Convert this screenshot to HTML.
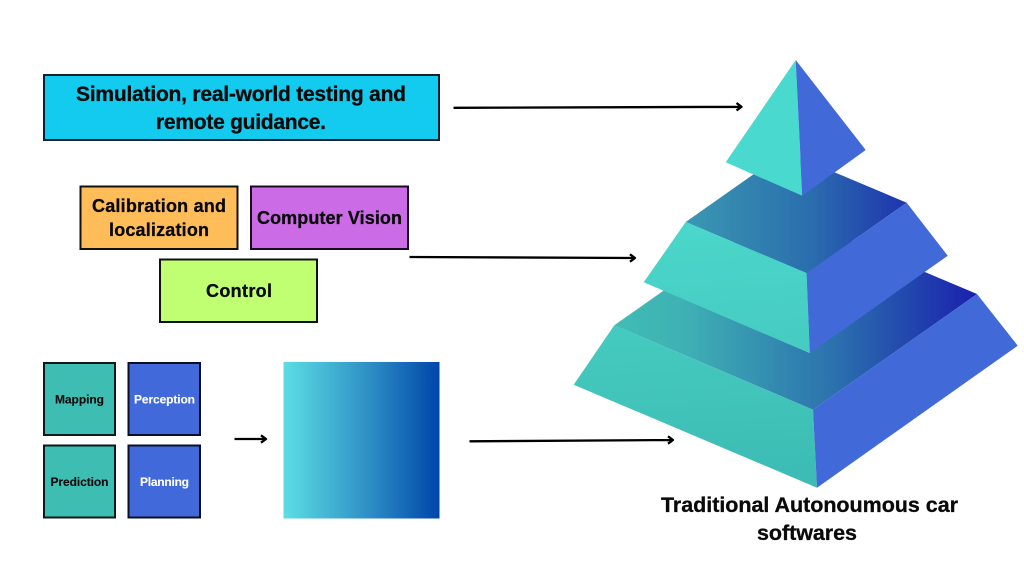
<!DOCTYPE html>
<html>
<head>
<meta charset="utf-8">
<style>
html,body{margin:0;padding:0;background:#fff;width:1024px;height:576px;overflow:hidden}
svg{display:block}
text{font-family:"Liberation Sans",sans-serif;font-weight:bold;text-anchor:middle;fill:#0a0a0a;stroke:#0a0a0a;stroke-width:.3px}
text.w{fill:#fff;stroke:#fff;stroke-width:.1px}
text.s{stroke-width:.1px}
</style>
</head>
<body>
<svg width="1024" height="576" viewBox="0 0 1024 576" xmlns="http://www.w3.org/2000/svg">
<defs>
<linearGradient id="cube" x1="0" y1="0" x2="1" y2="0">
<stop offset="0" stop-color="#5CDEE4"/><stop offset="0.5" stop-color="#3296C8"/><stop offset="1" stop-color="#0046AA"/>
</linearGradient>
<linearGradient id="t1" gradientUnits="userSpaceOnUse" x1="614" y1="340" x2="977" y2="340">
<stop offset="0" stop-color="#40BDB5"/><stop offset="0.2" stop-color="#3EB0B4"/><stop offset="0.6" stop-color="#2C72AE"/><stop offset="1" stop-color="#1A20AE"/>
</linearGradient>
<linearGradient id="t2" gradientUnits="userSpaceOnUse" x1="686" y1="220" x2="907" y2="220">
<stop offset="0" stop-color="#3A98B2"/><stop offset="0.55" stop-color="#2B6FAE"/><stop offset="1" stop-color="#1E34AE"/>
</linearGradient>
<linearGradient id="l1" gradientUnits="userSpaceOnUse" x1="690" y1="330" x2="700" y2="480">
<stop offset="0" stop-color="#45CABF"/><stop offset="1" stop-color="#3CBCB4"/>
</linearGradient>
<linearGradient id="l2" gradientUnits="userSpaceOnUse" x1="720" y1="230" x2="730" y2="350">
<stop offset="0" stop-color="#4AD6CA"/><stop offset="1" stop-color="#47CBC2"/>
</linearGradient>
</defs>

<!-- top box -->
<rect x="44" y="75" width="395" height="65" fill="#12CBEE" stroke="#0c2230" stroke-width="2"/>
<text x="241" y="101" font-size="21" textLength="330" lengthAdjust="spacing">Simulation, real-world testing and</text>
<text x="241" y="129" font-size="21" textLength="170" lengthAdjust="spacing">remote guidance.</text>

<!-- middle boxes -->
<rect x="80.500" y="186.500" width="157" height="62.500" fill="#FFBD59" stroke="#111" stroke-width="2"/>
<text x="159" y="212" font-size="18" textLength="134" lengthAdjust="spacing">Calibration and</text>
<text x="159" y="236" font-size="18" textLength="100" lengthAdjust="spacing">localization</text>
<rect x="251" y="186.500" width="157" height="62.500" fill="#CB6CE6" stroke="#1a0a22" stroke-width="2"/>
<text x="329.500" y="224" font-size="18" textLength="145" lengthAdjust="spacing">Computer Vision</text>
<rect x="160" y="259.500" width="157" height="62.500" fill="#C1FF72" stroke="#111" stroke-width="2"/>
<text x="239" y="297" font-size="18" textLength="66" lengthAdjust="spacing">Control</text>

<!-- small squares -->
<rect x="44" y="363" width="71" height="72" fill="#3EBDB3" stroke="#0c1a1a" stroke-width="2"/>
<text class="s" x="79.500" y="403.500" font-size="12" textLength="49" lengthAdjust="spacing">Mapping</text>
<rect x="128.500" y="363" width="71.500" height="72" fill="#4169DA" stroke="#0a0f25" stroke-width="2"/>
<text class="w" x="164.500" y="403.500" font-size="12" textLength="61" lengthAdjust="spacing">Perception</text>
<rect x="44" y="445.500" width="71" height="72" fill="#3EBDB3" stroke="#0c1a1a" stroke-width="2"/>
<text class="s" x="79.500" y="486" font-size="12" textLength="58" lengthAdjust="spacing">Prediction</text>
<rect x="128.500" y="445.500" width="71.500" height="72" fill="#4169DA" stroke="#0a0f25" stroke-width="2"/>
<text class="w" x="164.500" y="486" font-size="12" textLength="49" lengthAdjust="spacing">Planning</text>

<!-- gradient square -->
<rect x="283.500" y="362" width="156" height="156.500" fill="url(#cube)"/>

<!-- arrows -->
<g fill="none" stroke="#000" stroke-width="2.300" stroke-linejoin="round">
<path d="M453.500 107.800L741 106.800M736.500 103L741.500 106.800L736.500 110.500"/>
<path d="M409.500 257L634.500 258M630 254.300L635 258L630 261.700"/>
<path d="M469.500 441.300L672.500 440M668 436.300L673 440L668 443.700"/>
<path d="M234.500 439H265.500M261 435.300L266 439L261 442.700"/>
</g>

<!-- pyramid bottom tier -->
<polygon points="614.300,325.300 813,409.700 977,294 778,210" fill="url(#t1)"/>
<polygon points="614.300,325.300 813,409.700 817,487.700 573.700,384.700" fill="url(#l1)"/>
<polygon points="813,409.700 977,294 1017.700,345.700 817,487.700" fill="#4169D7"/>

<!-- pyramid middle tier -->
<polygon points="685.700,222 806.700,273 906.700,202.700 785.700,151.700" fill="url(#t2)"/>
<polygon points="685.700,222 806.700,273 810,353.300 643.700,282.300" fill="url(#l2)"/>
<polygon points="806.700,273 906.700,202.700 947.700,255.700 810,353.300" fill="#4169D7"/>

<!-- pyramid top -->
<polygon points="795.700,60 725.700,162.300 802.300,195.700" fill="#4AD9CE"/>
<polygon points="795.700,60 865.700,150 802.300,195.700" fill="#4169D7"/>

<!-- title -->
<text x="809.500" y="512" font-size="21.500" textLength="297" lengthAdjust="spacing">Traditional Autonoumous car</text>
<text x="807" y="540" font-size="21.500" textLength="100" lengthAdjust="spacing">softwares</text>
</svg>
</body>
</html>
